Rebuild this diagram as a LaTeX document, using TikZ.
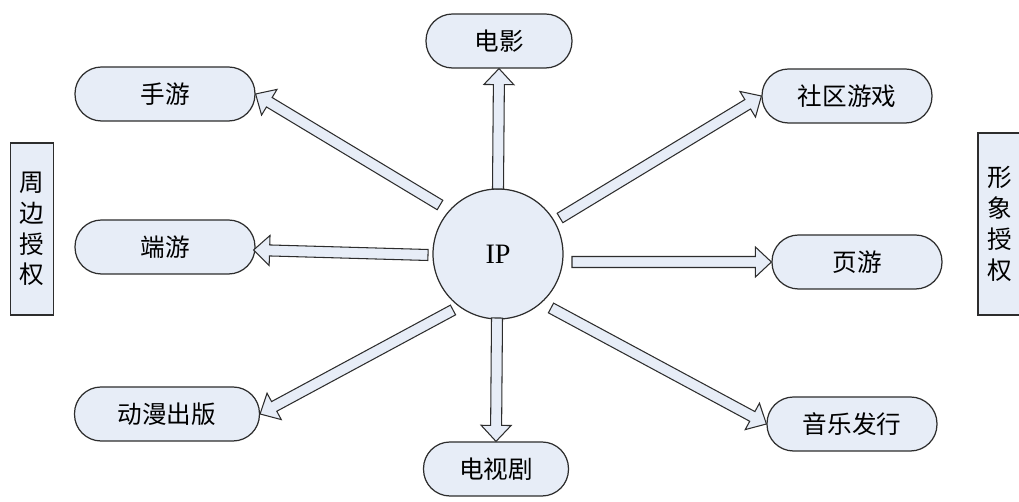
\documentclass[tikz,border=0pt]{standalone}
\usepackage{fontspec}
\setmainfont{Liberation Serif}
\newfontfamily\cjk{Noto Sans CJK SC}
\usetikzlibrary{calc}

\definecolor{boxfill}{RGB}{231,237,247}
\definecolor{edgegray}{RGB}{45,45,45}

% hollow block arrow from #1 to the tip #2
\newcommand{\blockarrow}[2]{%
  \coordinate (ba-base) at ($(#2)!0.32cm!(#1)$);
  \draw[fatarrow] ($(#1)!0.11cm!90:(#2)$) -- ($(ba-base)!0.11cm!90:(#2)$)
    -- ($(ba-base)!0.3cm!90:(#2)$) -- (#2) -- ($(ba-base)!0.3cm!-90:(#2)$)
    -- ($(ba-base)!0.11cm!-90:(#2)$) -- ($(#1)!0.11cm!-90:(#2)$) -- cycle;
}

\begin{document}
\begin{tikzpicture}[
    x=0.02cm, y=-0.02cm,
    roundbox/.style={draw=edgegray, line width=0.7pt, fill=boxfill, rounded corners=0.53cm,
        minimum height=1.08cm, inner sep=0pt, font=\cjk\fontsize{14}{17}\selectfont},
    sidebox/.style={draw=edgegray, line width=0.7pt, fill=boxfill, inner sep=0pt, align=center,
        font=\cjk\fontsize{14}{17.5}\selectfont},
    ipcircle/.style={circle, draw=edgegray, line width=0.7pt, fill=boxfill, minimum size=2.6cm,
        inner sep=0pt, font=\fontsize{16}{19}\selectfont},
    fatarrow/.style={draw=edgegray, line width=0.6pt, fill=boxfill, line join=miter}
]
    \useasboundingbox (0,0) rectangle (1019,502);

    % centre
    \node[ipcircle] (ip) at (498,254) {IP};

    % outputs
    \node[roundbox, minimum width=2.92cm] (dianying) at (499,41) {电影};
    \node[roundbox, minimum width=3.6cm] (shouyou) at (165,94) {手游};
    \node[roundbox, minimum width=3.4cm] (shequ) at (847,96) {社区游戏};
    \node[roundbox, minimum width=3.6cm] (duanyou) at (165,247) {端游};
    \node[roundbox, minimum width=3.4cm] (yeyou) at (857,262) {页游};
    \node[roundbox, minimum width=3.7cm] (dongman) at (167,414) {动漫出版};
    \node[roundbox, minimum width=3.4cm] (yinyue) at (852,424) {音乐发行};
    \node[roundbox, minimum width=2.9cm] (dianshi) at (496,469) {电视剧};

    % side labels
    \node[sidebox, minimum width=0.86cm, minimum height=3.44cm] (zhoubian) at (32,229) {周\\边\\授\\权};
    \node[sidebox, minimum width=0.88cm, minimum height=3.64cm] (xingxiang) at (1000,224) {形\\象\\授\\权};

    % arrow starts
    \coordinate (s-dianying) at ($(ip)+(0,-65)$);
    \coordinate (s-shouyou) at ($(ip)+(-58,-49)$);
    \coordinate (s-shequ) at ($(ip)+(62,-36)$);
    \coordinate (s-duanyou) at ($(ip)+(-70,1)$);
    \coordinate (s-yeyou) at ($(ip)+(74,8)$);
    \coordinate (s-dongman) at ($(ip)+(-45,56)$);
    \coordinate (s-yinyue) at ($(ip)+(53,54)$);
    \coordinate (s-dianshi) at ($(ip)+(-1,64)$);

    % arrows
    \blockarrow{s-dianying}{dianying.south}
    \blockarrow{s-shouyou}{shouyou.east}
    \blockarrow{s-shequ}{shequ.west}
    \blockarrow{s-duanyou}{$(duanyou.east)+(-2,3)$}
    \blockarrow{s-yeyou}{yeyou.west}
    \blockarrow{s-dongman}{dongman.east}
    \blockarrow{s-yinyue}{yinyue.west}
    \blockarrow{s-dianshi}{dianshi.north}

\end{tikzpicture}
\end{document}
